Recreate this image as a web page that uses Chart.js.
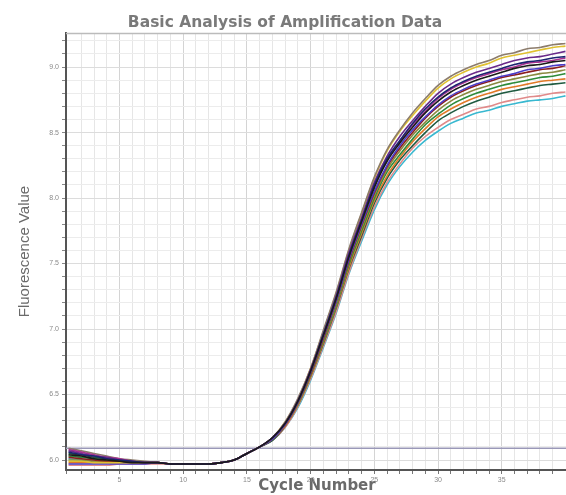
<!DOCTYPE html>
<html>
<head>
<meta charset="utf-8">
<script src="https://cdn.jsdelivr.net/npm/chart.js@4"></script>
<style>
  html, body { margin: 0; padding: 0; overflow: hidden; background: #fff; }
  #wrap { width: 570px; height: 495px; }
</style>
</head>
<body>
<div id="wrap"><canvas id="c"></canvas></div>
<script>
// ---- data ----
const cycles = [1,2,3,4,5,6,7,8,9,10,11,12,13,14,15,16,17,18,19,20,21,22,23,24,25,26,27,28,29,30,31,32,33,34,35,36,37,38,39,40];
const xTickLabels = ['5','10','15','20','25','30','35','40'];
const yTickLabels = ['6.0','6.5','7.0','7.5','8.0','8.5','9.0'];
const thresholdValue = 6.09;

const wellBlack   = [6.04,6.03,6.01,6.00,5.99,5.98,5.98,5.98,5.97,5.97,5.97,5.97,5.98,6.00,6.05,6.10,6.17,6.28,6.45,6.68,6.95,7.23,7.55,7.82,8.08,8.28,8.42,8.54,8.65,8.74,8.81,8.86,8.90,8.93,8.96,8.99,9.01,9.02,9.04,9.05];
const wellNavy    = [6.06,6.04,6.03,6.01,6.00,5.99,5.98,5.98,5.97,5.97,5.97,5.97,5.98,6.00,6.05,6.10,6.17,6.28,6.45,6.68,6.96,7.24,7.56,7.83,8.10,8.30,8.44,8.57,8.68,8.77,8.84,8.89,8.93,8.96,8.99,9.02,9.04,9.05,9.07,9.08];
const wellPurple  = [6.07,6.05,6.03,6.02,6.00,5.99,5.98,5.98,5.97,5.97,5.97,5.97,5.98,6.00,6.05,6.10,6.17,6.28,6.45,6.69,6.96,7.25,7.58,7.85,8.12,8.32,8.47,8.59,8.70,8.80,8.87,8.92,8.96,8.99,9.02,9.05,9.07,9.08,9.10,9.12];
const wellMagenta = [6.08,6.06,6.04,6.02,6.01,5.99,5.98,5.98,5.97,5.97,5.97,5.97,5.98,6.00,6.05,6.10,6.17,6.28,6.45,6.68,6.95,7.23,7.56,7.83,8.09,8.29,8.43,8.56,8.66,8.76,8.83,8.88,8.92,8.95,8.98,9.00,9.03,9.04,9.05,9.07];
const wellTaupe   = [6.09,6.07,6.05,6.03,6.01,6.00,5.99,5.98,5.97,5.97,5.97,5.97,5.98,6.00,6.05,6.10,6.17,6.29,6.47,6.70,6.99,7.28,7.61,7.89,8.16,8.37,8.52,8.65,8.76,8.86,8.93,8.98,9.02,9.05,9.09,9.11,9.14,9.15,9.17,9.18];
const wellGold    = [5.99,5.99,5.98,5.98,5.98,5.98,5.98,5.98,5.97,5.97,5.97,5.97,5.98,6.00,6.05,6.10,6.17,6.29,6.46,6.70,6.98,7.27,7.60,7.88,8.15,8.36,8.51,8.63,8.74,8.84,8.91,8.96,9.00,9.03,9.07,9.09,9.11,9.13,9.15,9.16];
const wellViolet  = [5.97,5.97,5.97,5.97,5.97,5.97,5.97,5.98,5.97,5.97,5.97,5.97,5.98,6.00,6.05,6.10,6.16,6.27,6.44,6.67,6.94,7.21,7.53,7.80,8.05,8.25,8.40,8.52,8.62,8.71,8.78,8.83,8.87,8.90,8.93,8.95,8.98,8.99,9.01,9.02];
const wellDarkRed = [6.02,6.01,6.00,5.99,5.99,5.98,5.98,5.98,5.97,5.97,5.97,5.97,5.98,6.00,6.05,6.10,6.16,6.27,6.44,6.66,6.93,7.21,7.52,7.79,8.04,8.24,8.38,8.50,8.61,8.70,8.77,8.82,8.86,8.89,8.92,8.94,8.96,8.98,8.99,9.01];
const wellOlive   = [6.00,6.00,5.99,5.99,5.99,5.98,5.98,5.98,5.97,5.97,5.97,5.97,5.98,6.00,6.05,6.10,6.16,6.27,6.43,6.66,6.92,7.19,7.51,7.77,8.02,8.22,8.36,8.48,8.58,8.67,8.74,8.79,8.83,8.86,8.89,8.91,8.93,8.95,8.96,8.98];
const wellGreen   = [6.03,6.02,6.01,6.00,5.99,5.98,5.98,5.98,5.97,5.97,5.97,5.97,5.98,6.00,6.05,6.10,6.16,6.27,6.43,6.65,6.91,7.18,7.49,7.75,8.00,8.20,8.33,8.45,8.56,8.64,8.71,8.76,8.80,8.83,8.86,8.88,8.90,8.92,8.93,8.95];
const wellOrange  = [5.98,5.98,5.98,5.98,5.98,5.98,5.98,5.98,5.97,5.97,5.97,5.97,5.98,6.00,6.05,6.10,6.16,6.26,6.42,6.64,6.90,7.17,7.47,7.73,7.98,8.17,8.31,8.43,8.53,8.62,8.68,8.73,8.77,8.80,8.83,8.85,8.87,8.89,8.90,8.91];
const wellForest  = [6.05,6.04,6.02,6.01,6.00,5.99,5.98,5.98,5.97,5.97,5.97,5.97,5.98,6.00,6.05,6.10,6.15,6.26,6.42,6.64,6.89,7.16,7.46,7.71,7.96,8.15,8.29,8.40,8.50,8.59,8.65,8.70,8.74,8.77,8.80,8.82,8.84,8.86,8.87,8.88];
const wellSalmon  = [5.96,5.96,5.96,5.96,5.97,5.97,5.97,5.97,5.97,5.97,5.97,5.97,5.98,6.00,6.05,6.10,6.15,6.25,6.41,6.62,6.87,7.13,7.43,7.69,7.93,8.12,8.26,8.38,8.47,8.54,8.60,8.64,8.68,8.70,8.73,8.75,8.77,8.78,8.80,8.81];
const wellCyan    = [6.01,6.00,6.00,5.99,5.99,5.98,5.98,5.98,5.97,5.97,5.97,5.97,5.98,6.00,6.05,6.10,6.15,6.25,6.40,6.61,6.86,7.12,7.42,7.67,7.91,8.10,8.24,8.35,8.44,8.51,8.57,8.61,8.65,8.67,8.70,8.72,8.74,8.75,8.76,8.78];

const wells = [
  {name:'A1', data: wellBlack,   color:'#1a1a1a'},
  {name:'A2', data: wellNavy,    color:'#1c2470'},
  {name:'A3', data: wellPurple,  color:'#6a2a8a'},
  {name:'A4', data: wellMagenta, color:'#a83090'},
  {name:'A5', data: wellTaupe,   color:'#8c7c6c'},
  {name:'A6', data: wellGold,    color:'#e0c030'},
  {name:'A7', data: wellViolet,  color:'#4b3cc8'},
  {name:'A8', data: wellDarkRed, color:'#8b1e1e'},
  {name:'A9', data: wellOlive,   color:'#8a8a40'},
  {name:'A10', data: wellGreen,  color:'#2e8b3a'},
  {name:'A11', data: wellOrange, color:'#e07a28'},
  {name:'A12', data: wellForest, color:'#1e5a40'},
  {name:'A13', data: wellSalmon, color:'#e08a8a'},
  {name:'A14', data: wellCyan,   color:'#38b8d0'}
];

const datasets = wells.map(w => ({
  label: w.name,
  data: cycles.map((c, i) => ({x: c, y: w.data[i]})),
  borderColor: w.color,
  borderWidth: 1.6,
  pointRadius: 0,
  cubicInterpolationMode: 'monotone',
  fill: false
}));
datasets.push({
  label: 'Threshold',
  data: [{x: 0.8, y: thresholdValue}, {x: 40.2, y: thresholdValue}],
  borderColor: '#9a98b8',
  borderWidth: 1.5,
  pointRadius: 0,
  fill: false
});

const topBorder = {
  id: 'topBorder',
  afterDraw(chart) {
    const {ctx, chartArea} = chart;
    ctx.save();
    ctx.strokeStyle = '#bbbbbb';
    ctx.lineWidth = 1.5;
    ctx.beginPath();
    ctx.moveTo(chartArea.left, chartArea.top + 0.5);
    ctx.lineTo(chartArea.right, chartArea.top + 0.5);
    ctx.stroke();
    ctx.restore();
  }
};

new Chart(document.getElementById('c'), {
  type: 'line',
  data: { datasets },
  plugins: [topBorder],
  options: {
    responsive: true,
    maintainAspectRatio: false,
    animation: false,
    layout: { padding: { left: 0, right: 0, top: 0, bottom: 0 } },
    plugins: {
      legend: { display: false },
      tooltip: { enabled: false },
      title: {
        display: true,
        text: 'Basic Analysis of Amplification Data',
        color: '#7a7a7a',
        font: { family: 'DejaVu Sans, Verdana, sans-serif', size: 15.5, weight: 'bold' },
        padding: { top: 14, bottom: 0.5 }
      }
    },
    scales: {
      x: {
        type: 'linear',
        min: 0.8,
        max: 40.2,
        afterFit(scale) { scale.height = 25; },
        border: { color: '#555', width: 2 },
        grid: {
          color: ctx => (ctx.tick && ctx.tick.value % 5 === 0) ? '#d4d4d4' : '#e6e6e6',
          lineWidth: 1,
          tickLength: 4,
          tickColor: '#777'
        },
        ticks: {
          stepSize: 1,
          autoSkip: false,
          maxRotation: 0,
          padding: 2,
          color: '#8a8a8a',
          font: { family: 'Liberation Sans, Arial, sans-serif', size: 7 },
          callback: v => xTickLabels.includes(String(v)) ? String(v) : ''
        },
        title: {
          display: true,
          text: 'Cycle Number',
          color: '#6a6a6a',
          font: { family: 'DejaVu Sans, Verdana, sans-serif', size: 15, weight: 'bold' },
          padding: { top: -7, bottom: 0 }
        }
      },
      y: {
        type: 'linear',
        min: 5.9237,
        max: 9.2595,
        afterFit(scale) { scale.width = 66; },
        border: { color: '#555', width: 2 },
        grid: {
          color: ctx => {
            if (!ctx.tick) return '#ececec';
            const v = ctx.tick.value;
            return Math.abs(v * 2 - Math.round(v * 2)) < 1e-6 ? '#dcdcdc' : '#ececec';
          },
          lineWidth: 1,
          tickLength: 4,
          tickColor: '#888'
        },
        ticks: {
          stepSize: 0.1,
          autoSkip: false,
          includeBounds: false,
          padding: 3,
          color: '#8a8a8a',
          font: { family: 'Liberation Sans, Arial, sans-serif', size: 7 },
          callback: v => {
            const s = Number(v).toFixed(1);
            return (Math.abs(v * 2 - Math.round(v * 2)) < 1e-6 && yTickLabels.includes(s)) ? s : '';
          }
        },
        title: {
          display: true,
          text: 'Fluorescence Value',
          color: '#6a6a6a',
          font: { family: 'Liberation Sans, Arial, sans-serif', size: 15 },
          padding: { top: 16, bottom: 0 }
        }
      }
    }
  }
});
</script>
</body>
</html>
